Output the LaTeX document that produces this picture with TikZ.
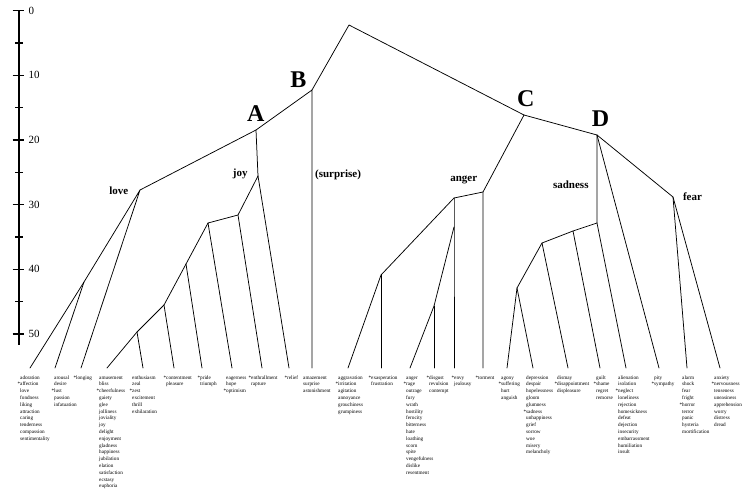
\documentclass[tikz,border=0pt]{standalone}
\usepackage{fontspec}
\setmainfont{Liberation Serif}
\begin{document}
\begin{tikzpicture}[x=1pt,y=-1pt,
  br/.style={line width=0.75pt, line cap=round, line join=round},
  lst/.style={anchor=north west, inner sep=0pt, align=left, font=\fontsize{5.2}{6.8}\selectfont},
  clab/.style={font=\fontsize{11}{13}\selectfont\bfseries, inner sep=0pt, anchor=center},
  biglab/.style={font=\fontsize{24}{26}\selectfont\bfseries, inner sep=0pt, anchor=center},
  axlab/.style={font=\fontsize{11}{13}\selectfont, inner sep=0pt, anchor=west},
  axline/.style={line width=2pt},
  majtick/.style={line width=1.3pt},
  mintick/.style={line width=1.1pt}]
\useasboundingbox (0,0) rectangle (747,491);

% ---------- scale ----------
\draw[axline] (18.5,10.7) -- (18.5,345);
\foreach \v in {0,10,20,30,40,50}{
  \draw[majtick] (12.7,{10.7+6.466*\v}) -- (24.3,{10.7+6.466*\v});
  \node[axlab] (ax\v) at (28.5,{10.7+6.466*\v}) {\v};
}
\foreach \v in {5,15,25,35,45}{
  \draw[mintick] (15,{10.7+6.466*\v}) -- (22.5,{10.7+6.466*\v});
}

% ---------- tree junctions ----------
\coordinate (root) at (349,25);
\coordinate (B) at (312,90);
\coordinate (A) at (256,130);
\coordinate (L) at (140,190);
\coordinate (L1) at (84,282);
\coordinate (J) at (258,176);
\coordinate (J1) at (238,215);
\coordinate (J2) at (208,223);
\coordinate (J3) at (186,264);
\coordinate (J4) at (164,305);
\coordinate (J5) at (137,332);
\coordinate (C) at (524,115);
\coordinate (G) at (483,192);
\coordinate (G1) at (454,198);
\coordinate (G2) at (381,275);
\coordinate (G3) at (454,227);
\coordinate (G4) at (434,306);
\coordinate (D) at (597,135);
\coordinate (S) at (597,223);
\coordinate (S1) at (573,231);
\coordinate (S2) at (542,243);
\coordinate (S3) at (517,288);
\coordinate (F) at (673,197);

% ---------- leaf ends ----------
\foreach \n/\x in {1/30,2/55,3/81,4/107,5/143,6/174,7/202,8/232,9/262,10/289,
                   11/312,12/348,13/381,14/410,15/434,16/454,17/483,
                   18/507,19/533,20/568,21/600,22/626,23/659,24/687,25/720}
  \coordinate (l\n) at (\x,368);

% ---------- branches ----------
\draw[br] (B) -- (root) -- (C);
\draw[br] (L) -- (A) -- (B) -- (l11);
\draw[br] (A) -- (J);
\draw[br] (l1) -- (L1) -- (L) -- (l3);
\draw[br] (L1) -- (l2);
\draw[br] (J) -- (l10);
\draw[br] (J) -- (J1) -- (l9);
\draw[br] (J1) -- (J2) -- (l8);
\draw[br] (J2) -- (J3) -- (l7);
\draw[br] (J3) -- (J4) -- (l6);
\draw[br] (J4) -- (J5) -- (l4);
\draw[br] (J5) -- (l5);
\draw[br] (C) -- (G) -- (l17);
\draw[br] (G) -- (G1) -- (G2) -- (l12);
\draw[br] (G2) -- (l13);
\draw[br] (G1) -- (G3) -- (l16);
\draw[br] (G3) -- (G4) -- (l14);
\draw[br] (G4) -- (l15);
\draw[br] (C) -- (D) -- (S);
\draw[br] (D) -- (l23);
\draw[br] (D) -- (F) -- (l24);
\draw[br] (F) -- (l25);
\draw[br] (S) -- (l22);
\draw[br] (S) -- (S1) -- (l21);
\draw[br] (S1) -- (S2) -- (l20);
\draw[br] (S2) -- (S3) -- (l18);
\draw[br] (S3) -- (l19);

% ---------- labels ----------
\node[biglab] (labA) at (255.8,113.3) {A};
\node[biglab] (labB) at (298.5,79.5) {B};
\node[biglab] (labC) at (525.8,98.3) {C};
\node[biglab] (labD) at (600.5,118.3) {D};
\node[clab] (love) at (118.8,190.3) {love};
\node[clab] (joy) at (240.3,174.2) {joy};
\node[clab] (surprise) at (338,174.7) {(surprise)};
\node[clab] (anger) at (463.8,180) {anger};
\node[clab] (sadness) at (570.8,185) {sadness};
\node[clab] (fear) at (692.5,196.2) {fear};

% ---------- word lists ----------
\def\ty{374.2}
\node[lst] (w1) at (20,\ty) {\strut adoration\\\llap{*}affection\\love\\fondness\\liking\\attraction\\caring\\tenderness\\compassion\\sentimentality};
\node[lst] (w2) at (54,\ty) {\strut arousal\\desire\\\llap{*}lust\\passion\\infatuation};
\node[lst] (w3) at (76,\ty) {\strut\llap{*}longing};
\node[lst] (w4) at (99,\ty) {\strut amusement\\bliss\\\llap{*}cheerfulness\\gaiety\\glee\\jolliness\\joviality\\joy\\delight\\enjoyment\\gladness\\happiness\\jubilation\\elation\\satisfaction\\ecstasy\\euphoria};
\node[lst] (w5) at (132,\ty) {\strut enthusiasm\\zeal\\\llap{*}zest\\excitement\\thrill\\exhilaration};
\node[lst] (w6) at (166,\ty) {\strut\llap{*}contentment\\pleasure};
\node[lst] (w7) at (200,\ty) {\strut\llap{*}pride\\triumph};
\node[lst] (w8) at (226,\ty) {\strut eagerness\\hope\\\llap{*}optimism};
\node[lst] (w9) at (251,\ty) {\strut\llap{*}enthrallment\\rapture};
\node[lst] (w10) at (287,\ty) {\strut\llap{*}relief};
\node[lst] (w11) at (303,\ty) {\strut amazement\\surprise\\astonishment};
\node[lst] (w12) at (338,\ty) {\strut aggravation\\\llap{*}irritation\\agitation\\annoyance\\grouchiness\\grumpiness};
\node[lst] (w13) at (371,\ty) {\strut\llap{*}exasperation\\frustration};
\node[lst] (w14) at (406,\ty) {\strut anger\\\llap{*}rage\\outrage\\fury\\wrath\\hostility\\ferocity\\bitterness\\hate\\loathing\\scorn\\spite\\vengefulness\\dislike\\resentment};
\node[lst] (w15) at (429,\ty) {\strut\llap{*}disgust\\revulsion\\contempt};
\node[lst] (w16) at (454,\ty) {\strut\llap{*}envy\\jealousy};
\node[lst] (w17) at (478,\ty) {\strut\llap{*}torment};
\node[lst] (w18) at (501,\ty) {\strut agony\\\llap{*}suffering\\hurt\\anguish};
\node[lst] (w19) at (526,\ty) {\strut depression\\despair\\hopelessness\\gloom\\glumness\\\llap{*}sadness\\unhappiness\\grief\\sorrow\\woe\\misery\\melancholy};
\node[lst] (w20) at (557,\ty) {\strut dismay\\\llap{*}disappointment\\displeasure};
\node[lst] (w21) at (596,\ty) {\strut guilt\\\llap{*}shame\\regret\\remorse};
\node[lst] (w22) at (618,\ty) {\strut alienation\\isolation\\\llap{*}neglect\\loneliness\\rejection\\homesickness\\defeat\\dejection\\insecurity\\embarrassment\\humiliation\\insult};
\node[lst] (w23) at (654,\ty) {\strut pity\\\llap{*}sympathy};
\node[lst] (w24) at (682,\ty) {\strut alarm\\shock\\fear\\fright\\\llap{*}horror\\terror\\panic\\hysteria\\mortification};
\node[lst] (w25) at (714,\ty) {\strut anxiety\\\llap{*}nervousness\\tenseness\\uneasiness\\apprehension\\worry\\distress\\dread};
\end{tikzpicture}
\end{document}
